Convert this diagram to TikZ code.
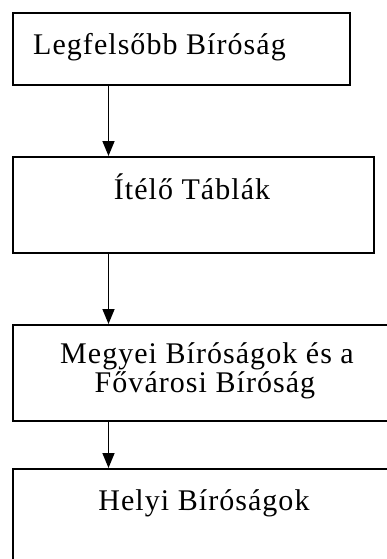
\documentclass[tikz,border=0pt]{standalone}
\usepackage{fontspec}
\setmainfont{Liberation Serif}
\newfontfamily\boxfont[LetterSpace=3.5]{Liberation Serif}
\usetikzlibrary{arrows.meta}
\begin{document}
\begin{tikzpicture}[x=1pt,y=-1pt,
  box/.style={draw,line width=1.8pt,rectangle,inner sep=0pt,anchor=north west},
  lbl/.style={font=\boxfont\fontsize{30}{29}\selectfont,inner sep=0pt},
  arr/.style={line width=1.6pt,-{Triangle[width=12pt,length=15pt]}}]
\useasboundingbox (0,0) rectangle (387,559);
\clip (0,0) rectangle (387,559);
\fill[white] (0,0) rectangle (387,559);
\node[box,minimum width=337pt,minimum height=72pt] (b1) at (12,12) {};
\node[box,minimum width=361pt,minimum height=96pt] (b2) at (12,156) {};
\node[box,minimum width=400pt,minimum height=96pt] (b3) at (12,324) {};
\node[box,minimum width=400pt,minimum height=120pt] (b4) at (12,468) {};
\node[lbl,anchor=base west] (t1) at (33,55) {Legfelsőbb Bíróság};
\node[lbl,anchor=base] (t2) at (192,199) {Ítélő Táblák};
\node[lbl,anchor=base] (t3a) at (207,363) {Megyei Bíróságok és a};
\node[lbl,anchor=base] (t3b) at (205,392) {Fővárosi Bíróság};
\node[lbl,anchor=base] (t4) at (204,510) {Helyi Bíróságok};
\coordinate (ax) at (108.5,0);
\draw[arr] (b1.south -| ax) -- (b2.north -| ax);
\draw[arr] (b2.south -| ax) -- (b3.north -| ax);
\draw[arr] (b3.south -| ax) -- (b4.north -| ax);
\end{tikzpicture}
\end{document}
